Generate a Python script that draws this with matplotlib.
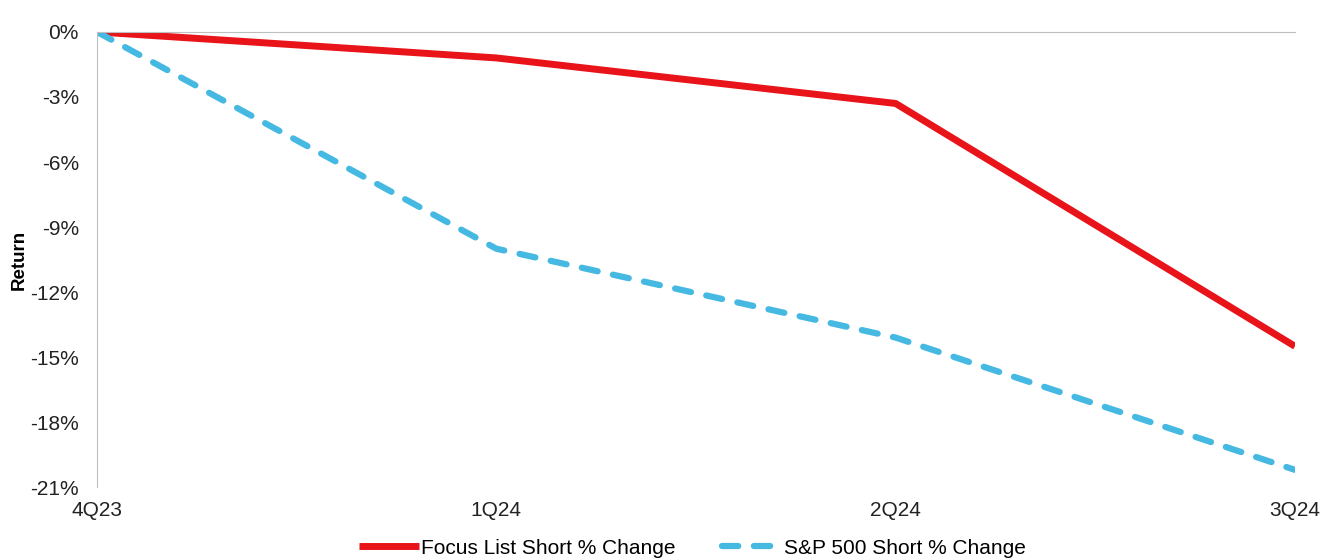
import numpy as np
import matplotlib.pyplot as plt
from matplotlib.ticker import FuncFormatter

plt.rcParams['font.family'] = ['Liberation Sans', 'DejaVu Sans']

# 数据
quarters = ['4Q23', '1Q24', '2Q24', '3Q24']
focus_short = [0.0, -1.2, -3.3, -14.5]
sp500_short = [0.0, -10.0, -14.1, -20.2]

fig = plt.figure(figsize=(13.35, 5.6), dpi=100)
ax = fig.add_axes([0.0727, 0.130, 0.8973, 0.813])

x = np.arange(len(quarters))
ax.plot(x, focus_short, color='#E8141A', lw=5, solid_capstyle='butt',
        label='Focus List Short % Change')
ax.plot(x, sp500_short, color='#45B9E2', lw=4.5, ls=(0, (2.6, 2.5)),
        dash_capstyle='round', label='S&P 500 Short % Change')

ax.set_xlim(0, len(quarters) - 1)
ax.set_ylim(-21, 0)
ax.set_yticks(np.arange(-21, 1, 3))
ax.yaxis.set_major_formatter(FuncFormatter(lambda v, p: f'{v:.0f}%'))
ax.set_xticks(x)
ax.set_xticklabels(quarters)

# 坐标轴样式
for s in ['right', 'bottom']:
    ax.spines[s].set_visible(False)
ax.spines['left'].set_color('#BFBFBF')
ax.spines['top'].set_color('#BFBFBF')
ax.tick_params(axis='both', length=0, labelsize=15, colors='#222222')
ax.tick_params(axis='y', pad=13)
ax.tick_params(axis='x', pad=10)

ax.set_ylabel('Return', fontsize=13.5, fontweight='bold')
ax.yaxis.set_label_coords(-0.058, 0.5)

ax.legend(loc='center', bbox_to_anchor=(0.497, -0.134), ncol=2,
          frameon=False, fontsize=15, handlelength=2.9, handletextpad=0.1,
          columnspacing=2.2, borderpad=0.2)

fig.savefig('out.png', dpi=100)
